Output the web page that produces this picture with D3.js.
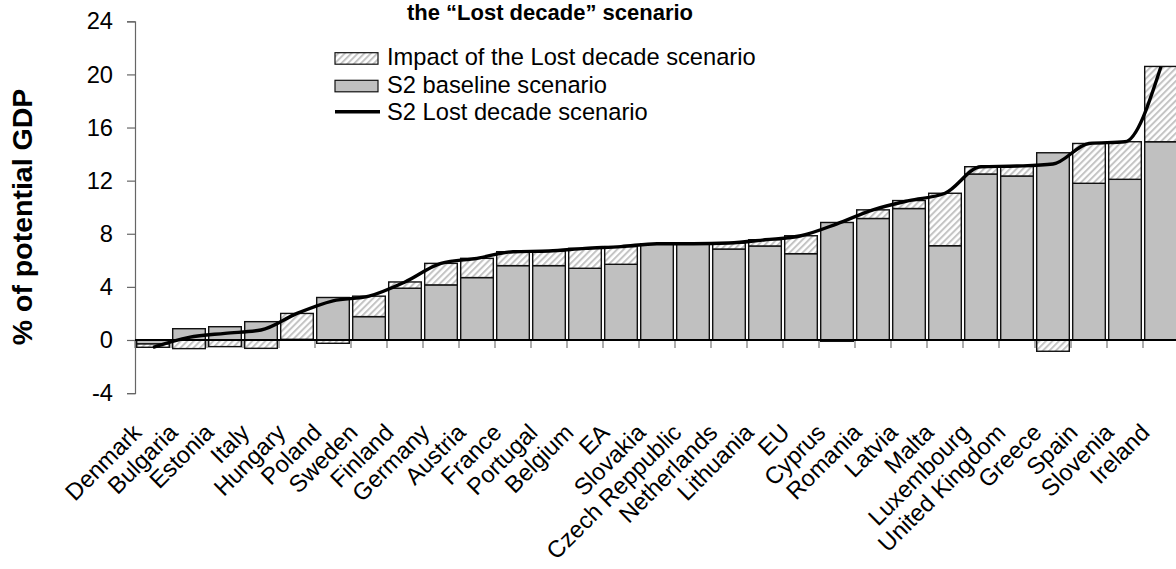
<!DOCTYPE html>
<html>
<head>
<meta charset="utf-8">
<script src="https://cdn.jsdelivr.net/npm/d3@7"></script>
<style>
  html, body { margin: 0; padding: 0; background: #fff; }
  svg { display: block; font-family: "Liberation Sans", Arial, sans-serif; }
</style>
</head>
<body>
<svg id="chart" width="1176" height="569"></svg>
<script>
// Countries, ordered by the S2 indicator under the Lost decade scenario
const categories = ["Denmark", "Bulgaria", "Estonia", "Italy", "Hungary", "Poland", "Sweden",
  "Finland", "Germany", "Austria", "France", "Portugal", "Belgium", "EA", "Slovakia",
  "Czech Reppublic", "Netherlands", "Lithuania", "EU", "Cyprus", "Romania", "Latvia",
  "Malta", "Luxembourg", "United Kingdom", "Greece", "Spain", "Slovenia", "Ireland"];

// S2 baseline scenario (% of potential GDP)
const baseline = [-0.3, 0.85, 1.0, 1.38, 0.05, 3.2, 1.76, 3.9, 4.15, 4.7, 5.6, 5.6, 5.4, 5.7,
  7.25, 7.25, 6.85, 7.08, 6.5, 8.85, 9.15, 9.9, 7.1, 12.5, 12.35, 14.1, 11.8, 12.1, 14.93];

// S2 Lost decade scenario (% of potential GDP)
const lostDecade = [-0.55, 0.2, 0.5, 0.75, 2.0, 2.95, 3.3, 4.37, 5.77, 6.15, 6.65, 6.7, 6.9, 7.03,
  7.25, 7.25, 7.3, 7.55, 7.85, 8.75, 9.8, 10.5, 11.05, 13.05, 13.1, 13.25, 14.8, 14.93, 20.6];

const yTicks = [-4, 0, 4, 8, 12, 16, 20, 24];

const seriesNames = ["Impact of the Lost decade scenario", "S2 baseline scenario", "S2 Lost decade scenario"];

// Impact = difference between the two scenarios
const impact = lostDecade.map((v, i) => +(v - baseline[i]).toFixed(3));

const svg = d3.select("#chart");
const FONT = 23.7;

const x = d3.scaleBand()
  .domain(categories)
  .range([135, 135 + 36 * categories.length])
  .paddingInner(0.094)
  .paddingOuter(0.047);

const y = d3.scaleLinear().domain([-4, 24]).range([393.1, 21.3]);

// Diagonal hatch for the impact segments
const defs = svg.append("defs");
const pat = defs.append("pattern")
  .attr("id", "hatch")
  .attr("patternUnits", "userSpaceOnUse")
  .attr("width", 4.6).attr("height", 4.6)
  .attr("patternTransform", "rotate(45)");
pat.append("rect").attr("width", 4.6).attr("height", 4.6).attr("fill", "#fff");
pat.append("rect").attr("x", 0).attr("width", 2).attr("height", 4.6).attr("fill", "#c4c4c4");

// Title (second line of the heading)
svg.append("text")
  .attr("x", 550).attr("y", 20)
  .attr("text-anchor", "middle")
  .attr("font-size", 22).attr("font-weight", "bold")
  .text("the \u201CLost decade\u201D scenario");

// Y axis
const yAxis = svg.append("g")
  .attr("transform", "translate(135,0)")
  .call(d3.axisLeft(y).tickValues(yTicks).tickSize(8).tickPadding(14).tickFormat(d => String(d)));
yAxis.select(".domain").attr("stroke", "#666").attr("stroke-width", 1.2);
yAxis.selectAll(".tick line").attr("stroke", "#666").attr("stroke-width", 1.2);
yAxis.selectAll(".tick text")
  .attr("font-size", FONT).attr("fill", "#000")
  .attr("font-family", "Liberation Sans, Arial, sans-serif");

svg.append("text")
  .attr("transform", "translate(32,217) rotate(-90)")
  .attr("text-anchor", "middle")
  .attr("font-size", 28.5).attr("font-weight", "bold")
  .text("% of potential GDP");

// Stack: positives grow up from zero, negatives grow down from zero
const segments = [];
categories.forEach((c, i) => {
  let pos = 0, neg = 0;
  [["base", baseline[i]], ["impact", impact[i]]].forEach(([k, v]) => {
    if (v >= 0) { segments.push({ c, k, y0: pos, y1: pos + v }); pos += v; }
    else { segments.push({ c, k, y0: neg, y1: neg + v }); neg += v; }
  });
});

const step = x.step();
const x0 = x.range()[0];

// Category ticks below the zero line
svg.append("g").selectAll("line")
  .data(d3.range(categories.length + 1))
  .join("line")
  .attr("x1", i => x0 + i * step).attr("x2", i => x0 + i * step)
  .attr("y1", y(0)).attr("y2", y(0) + 8)
  .attr("stroke", "#777").attr("stroke-width", 1.2);

svg.append("g").selectAll("rect")
  .data(segments.filter(s => Math.abs(s.y1 - s.y0) > 0.001))
  .join("rect")
  .attr("x", s => x(s.c))
  .attr("width", x.bandwidth())
  .attr("y", s => y(Math.max(s.y0, s.y1)))
  .attr("height", s => Math.abs(y(s.y0) - y(s.y1)))
  .attr("fill", s => s.k === "base" ? "#c0c0c0" : "url(#hatch)")
  .attr("stroke", "#111").attr("stroke-width", 1.4);

// Zero line
svg.append("line")
  .attr("x1", 135).attr("x2", 1176)
  .attr("y1", y(0)).attr("y2", y(0))
  .attr("stroke", "#000").attr("stroke-width", 2);

// Lost decade line
const line = d3.line()
  .x((d, i) => x(categories[i]) + x.bandwidth() / 2)
  .y(d => y(d))
  .curve(d3.curveMonotoneX);
svg.append("path")
  .datum(lostDecade)
  .attr("d", line)
  .attr("fill", "none")
  .attr("stroke", "#000")
  .attr("stroke-width", 3.4)
  .attr("stroke-linejoin", "round");

// Category labels
svg.append("g").selectAll("text")
  .data(categories)
  .join("text")
  .attr("transform", c => `translate(${x(c) + x.bandwidth() / 2 - 10},434) rotate(-45)`)
  .attr("text-anchor", "end")
  .attr("font-size", FONT)
  .text(c => c);

// Legend
const lg = svg.append("g");
const lx = 335, tx = 387;
lg.append("rect").attr("x", lx).attr("y", 52.7).attr("width", 43).attr("height", 11.5)
  .attr("fill", "url(#hatch)").attr("stroke", "#111").attr("stroke-width", 1.2);
lg.append("rect").attr("x", lx).attr("y", 80.3).attr("width", 43).attr("height", 11.5)
  .attr("fill", "#c0c0c0").attr("stroke", "#111").attr("stroke-width", 1.2);
lg.append("line").attr("x1", lx).attr("x2", 380).attr("y1", 111.7).attr("y2", 111.7)
  .attr("stroke", "#000").attr("stroke-width", 3.4);
[65, 93, 120].forEach((by, i) => {
  lg.append("text").attr("x", tx).attr("y", by).attr("font-size", FONT).text(seriesNames[i]);
});
</script>
</body>
</html>
